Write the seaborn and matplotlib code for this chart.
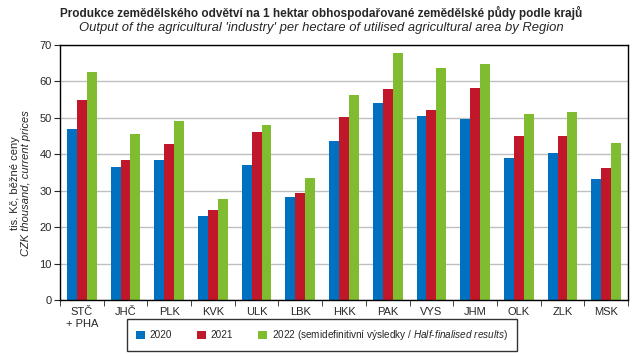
import numpy as np
import pandas as pd
import matplotlib
matplotlib.use('Agg')
import matplotlib.pyplot as plt
import seaborn as sns

regions = ['STČ\n+ PHA', 'JHČ', 'PLK', 'KVK', 'ULK', 'LBK', 'HKK',
           'PAK', 'VYS', 'JHM', 'OLK', 'ZLK', 'MSK']
v2020 = [47.0, 36.5, 38.5, 23.0, 37.1, 28.3, 43.7, 54.2, 50.6, 49.7, 39.0, 40.4, 33.2]
v2021 = [55.0, 38.5, 42.9, 24.7, 46.2, 29.4, 50.3, 58.0, 52.2, 58.3, 45.0, 45.0, 36.3]
v2022 = [62.7, 45.6, 49.2, 27.7, 48.1, 33.5, 56.4, 67.9, 63.8, 64.9, 51.1, 51.7, 43.1]
series = ['2020', '2021',
          '2022 (semidefinitivní výsledky / $\\it{Half}$-$\\it{finalised\\ results}$)']
colors = ['#0070C0', '#C0182A', '#80BC2F']

sns.set_style('white')
plt.rcParams['font.family'] = ['Liberation Sans', 'DejaVu Sans']
plt.rcParams['mathtext.fontset'] = 'custom'
plt.rcParams['mathtext.rm'] = 'Liberation Sans'
plt.rcParams['mathtext.it'] = 'Liberation Sans:italic'

rows = []
for name, vals in zip(series, [v2020, v2021, v2022]):
    for reg, v in zip(regions, vals):
        rows.append([reg, name, v])
df = pd.DataFrame(rows, columns=['region', 'year', 'value'])

fig = plt.figure(figsize=(6.43, 3.56), dpi=100)
ax = fig.add_axes([60 / 643, 1 - 300 / 356, 568 / 643, 255 / 356])

sns.barplot(data=df, x='region', y='value', hue='year', palette=colors,
            width=0.68, saturation=1, linewidth=0, ax=ax, legend=True)

ax.set_ylim(0, 70)
ax.set_xlim(-0.5, len(regions) - 0.5)
ax.set_yticks(range(0, 71, 10))
ax.yaxis.grid(True, color='#BFBFBF', linewidth=1)
ax.set_axisbelow(True)
for s in ax.spines.values():
    s.set_color('black')
    s.set_linewidth(1)
ax.tick_params(axis='y', labelsize=8, length=4, direction='out', left=True, pad=2)
ax.tick_params(axis='x', which='major', labelsize=8, length=0, pad=5)
ax.set_xticks(np.arange(-0.5, len(regions), 1), minor=True)
ax.tick_params(axis='x', which='minor', length=4, bottom=True)
ax.set_xlabel('')
ax.set_ylabel('')

fig.text(15 / 643, 1 - 183 / 356, 'tis. Kč, běžné ceny', rotation=90,
         ha='center', va='center', fontsize=8)
fig.text(26 / 643, 1 - 183 / 356, 'CZK thousand, current prices', rotation=90,
         ha='center', va='center', fontsize=8, style='italic')

fig.text(0.5, 1 - 13 / 356, 'Produkce zemědělského odvětví na 1 hektar obhospodařované zemědělské půdy podle krajů',
         ha='center', va='center', fontsize=8.5, fontweight='bold')
fig.text(0.5, 1 - 28 / 356, "Output of the agricultural 'industry' per hectare of utilised agricultural area by Region",
         ha='center', va='center', fontsize=9.4, style='italic')

handles, labels = ax.get_legend_handles_labels()
ax.legend(handles, labels, ncol=3, loc='center', bbox_to_anchor=(322 / 643, 1 - 335 / 356),
          bbox_transform=fig.transFigure, fontsize=7.2, frameon=True, fancybox=False,
          edgecolor='black', handlelength=0.85, handleheight=0.85, handletextpad=0.5,
          columnspacing=2.5, borderpad=0.9)

fig.savefig('out.png', dpi=100)
